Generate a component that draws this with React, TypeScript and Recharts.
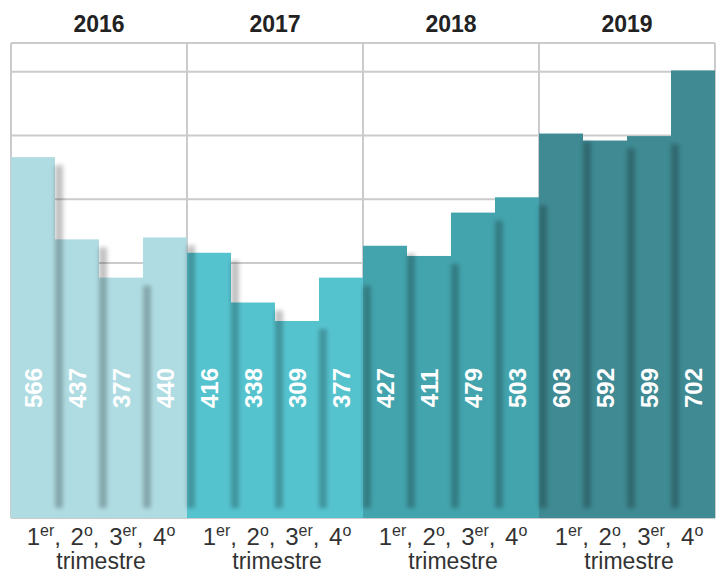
import { Bar, BarChart, CartesianGrid, LabelList, XAxis, YAxis } from 'recharts'

const years = ['2016', '2017', '2018', '2019']
const quarterNums = ['1', '2', '3', '4']
const quarterSuffix = ['er', 'o', 'er', 'o']

const values2016 = [566, 437, 377, 440]
const values2017 = [416, 338, 309, 377]
const values2018 = [427, 411, 479, 503]
const values2019 = [603, 592, 599, 702]

const yearColors = ['#afdce2', '#55c3ce', '#43a4ad', '#3f8a93']
const yTicks = [0, 100, 200, 300, 400, 500, 600, 700, 745]

const series = [values2016, values2017, values2018, values2019]
const data = years.flatMap((year, g) =>
  series[g].map((value, q) => ({ key: `${year}-${q + 1}`, year, g, q, value })),
)

const FONT = '"Liberation Sans", Arial, sans-serif'

// bar + the soft shadow that the bar on its left throws over it
function ShadowBar(props: any) {
  const { x, y, width, height, index, payload } = props
  const bottom = y + height
  const prev = data[index - 1]
  let shadow = null
  if (prev && payload.value > 0) {
    const pxPerUnit = height / payload.value
    const prevTop = bottom - prev.value * pxPerUnit
    const top = prevTop + 8
    shadow = (
      <rect
        x={x}
        y={top}
        width={8}
        height={Math.max(0, bottom - 10 - top)}
        fill='#000'
        fillOpacity={0.24}
        filter='url(#barShadow)'
      />
    )
  }
  return (
    <g>
      <rect x={x} y={y} width={width} height={height} fill={yearColors[payload.g]} />
      {shadow}
    </g>
  )
}

function ValueLabel(props: any) {
  const { x, y, width, height, value } = props
  const cx = x + width / 2
  const cy = y + height - 130
  return (
    <text
      x={cx}
      y={cy}
      transform={`rotate(-90 ${cx} ${cy})`}
      textAnchor='middle'
      dominantBaseline='central'
      fill='#fff'
      fontFamily={FONT}
      fontWeight='bold'
      fontSize={24}
    >
      {value}
    </text>
  )
}

function YearTick(props: any) {
  const { x, y, payload, index, width, visibleTicksCount } = props
  if (index % 4 !== 1) return null
  const half = payload.offset ?? width / visibleTicksCount / 2
  return (
    <text
      x={x + half}
      y={y - 11}
      textAnchor='middle'
      fill='#222'
      fontFamily={FONT}
      fontWeight='bold'
      fontSize={23}
    >
      {data[index].year}
    </text>
  )
}

function QuarterTick(props: any) {
  const { x, y, payload, index, width, visibleTicksCount } = props
  if (index % 4 !== 1) return null
  const half = payload.offset ?? width / visibleTicksCount / 2
  const cx = x + half + 2
  return (
    <g fill='#333' fontFamily={FONT} fontSize={24}>
      <text x={cx} y={y + 27} textAnchor='middle' wordSpacing={3}>
        {quarterNums.map((n, i) => (
          <tspan key={n}>
            <tspan>{(i > 0 ? ' ' : '') + n}</tspan>
            <tspan fontSize={16} dy={-9}>
              {quarterSuffix[i]}
            </tspan>
            <tspan dy={9}>{i < 3 ? ',' : ''}</tspan>
          </tspan>
        ))}
      </text>
      <text x={cx} y={y + 51} textAnchor='middle' fontSize={23}>
        trimestre
      </text>
    </g>
  )
}

export default function App() {
  return (
    <div style={{ position: 'absolute', left: 0, top: 0 }}>
      <BarChart
        width={717}
        height={574}
        data={data}
        margin={{ top: 0, right: 2, left: 11, bottom: 0 }}
        barCategoryGap={0}
      >
        <defs>
          <filter id='barShadow' x='-150%' y='-10%' width='400%' height='120%'>
            <feGaussianBlur stdDeviation='2.2' />
          </filter>
        </defs>
        <CartesianGrid
          stroke='#cbcbcd'
          strokeWidth={2}
          verticalCoordinatesGenerator={({ offset }: any) =>
            years
              .map((_, g) => offset.left + (offset.width * g * 4) / data.length)
              .concat(offset.left + offset.width)
          }
        />
        <XAxis
          xAxisId='top'
          orientation='top'
          dataKey='key'
          height={43}
          axisLine={false}
          tickLine={false}
          tickSize={0}
          tickMargin={0}
          interval={0}
          tick={<YearTick />}
        />
        <XAxis
          xAxisId='bottom'
          dataKey='key'
          height={56}
          axisLine={false}
          tickLine={false}
          tickSize={0}
          tickMargin={0}
          interval={0}
          tick={<QuarterTick />}
        />
        <YAxis hide domain={[0, 745]} ticks={yTicks} />
        <Bar xAxisId='bottom' dataKey='value' shape={<ShadowBar />} isAnimationActive={false}>
          <LabelList dataKey='value' content={<ValueLabel />} />
        </Bar>
      </BarChart>
    </div>
  )
}
